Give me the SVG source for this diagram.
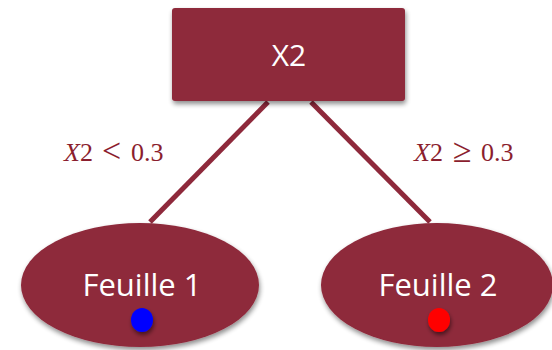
<svg xmlns="http://www.w3.org/2000/svg" width="552" height="350" viewBox="0 0 552 350">
  <defs>
    <filter id="shadow" x="-20%" y="-20%" width="140%" height="150%">
      <feGaussianBlur in="SourceAlpha" stdDeviation="2.5"/>
      <feOffset dx="1" dy="3" result="b"/>
      <feComponentTransfer><feFuncA type="linear" slope="0.45"/></feComponentTransfer>
      <feMerge><feMergeNode/><feMergeNode in="SourceGraphic"/></feMerge>
    </filter>
    <filter id="dotshadow" x="-60%" y="-60%" width="220%" height="220%">
      <feGaussianBlur in="SourceAlpha" stdDeviation="2"/>
      <feOffset dx="1" dy="3" result="b"/>
      <feComponentTransfer><feFuncA type="linear" slope="0.5"/></feComponentTransfer>
      <feMerge><feMergeNode/><feMergeNode in="SourceGraphic"/></feMerge>
    </filter>
  </defs>
  <style>
    .shape { fill: #8E293B; }
    .edge { stroke: #8E293B; stroke-width: 5; fill: none; }
    .nodetext { fill: #ffffff; font-family: "Open Sans", "DejaVu Sans", sans-serif; text-anchor: middle; }
    .cond { fill: #8B1E2E; font-family: "Liberation Serif", serif; font-size: 26px; }
    .rel { font-size: 34px; }
  </style>
  <rect width="552" height="350" fill="#ffffff"/>

  <g id="connectors">
    <line class="edge" x1="268" y1="102" x2="150" y2="222"/>
    <line class="edge" x1="311" y1="102" x2="430" y2="222"/>
    <text class="cond" y="161"><tspan x="64" font-style="italic">X</tspan>2<tspan class="rel" x="102" dy="1">&lt;</tspan><tspan x="131" dy="-1">0.3</tspan></text>
    <text class="cond" y="161"><tspan x="414" font-style="italic">X</tspan>2<tspan class="rel" x="453" dy="1">≥</tspan><tspan x="481" dy="-1">0.3</tspan></text>
  </g>

  <g id="root">
    <rect class="shape" x="172" y="8" width="233" height="93" rx="3" filter="url(#shadow)"/>
    <text class="nodetext" x="289" y="66" font-size="30">X2</text>
  </g>

  <g id="leaf1">
    <ellipse class="shape" cx="140" cy="285" rx="119" ry="62" filter="url(#shadow)"/>
    <text class="nodetext" x="142" y="296" font-size="31">Feuille 1</text>
    <ellipse cx="142" cy="320" rx="11" ry="12" fill="#0000ff" filter="url(#dotshadow)"/>
  </g>

  <g id="leaf2">
    <ellipse class="shape" cx="437" cy="285" rx="116" ry="62" filter="url(#shadow)"/>
    <text class="nodetext" x="438" y="296" font-size="31">Feuille 2</text>
    <ellipse cx="439" cy="320" rx="11" ry="12" fill="#ff0000" filter="url(#dotshadow)"/>
  </g>
</svg>
